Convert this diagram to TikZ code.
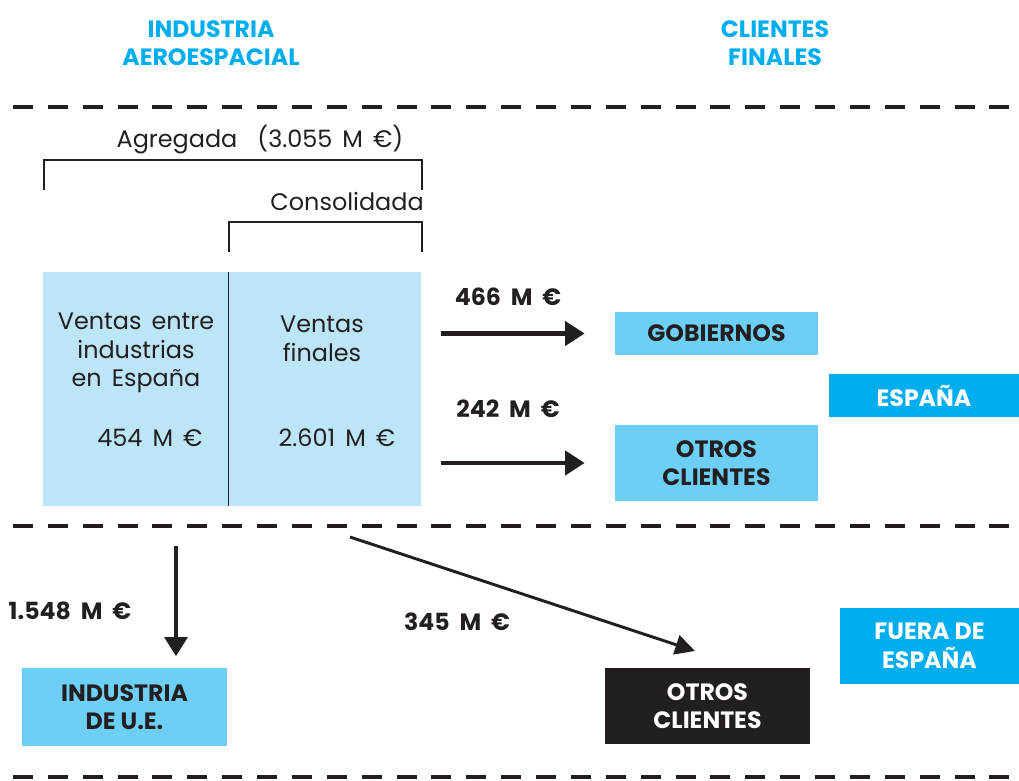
\documentclass[tikz,border=0pt]{standalone}
\usepackage{fontspec}
\setmainfont{Poppins}
\usepackage{xcolor}
\definecolor{colTitle}{HTML}{00AEEF}
\definecolor{colPale}{HTML}{BDE5F8}
\definecolor{colMid}{HTML}{6DCFF6}
\definecolor{colDark}{HTML}{231F20}
\usetikzlibrary{arrows.meta, positioning}
\newcommand\widesp{\spaceskip=0.42em plus 0.1em\relax}

\tikzset{
    lbl/.style={font={\fontsize{17}{20.3}\selectfont\widesp}, text=colDark, align=center, inner sep=0pt},
    blbl/.style={lbl, font={\fontsize{16.8}{20.3}\selectfont\bfseries\widesp}},
    cbox/.style={lbl, font={\fontsize{16.8}{20.3}\selectfont\bfseries}, fill=colMid, minimum width=5.075cm},
    zone/.style={cbox, fill=colTitle, text=white},
    sepline/.style={colDark, line width=2.8pt, dash pattern=on 14.2pt off 10.6pt},
    bracket/.style={colDark, line width=0.9pt},
    flow/.style={colDark, line width=3.5pt, -{Triangle[length=14pt,width=17pt]}},
}

\begin{document}
\begin{tikzpicture}[x=0.025cm, y=-0.025cm]
        \useasboundingbox (0,0) rectangle (1019,781);
        % Column titles
        \node[blbl, text=colTitle] (tInd) at (211,43) {INDUSTRIA\\AEROESPACIAL};
        \node[blbl, text=colTitle] (tCli) at (775,43) {CLIENTES\\FINALES};
        % Separators
        \draw[sepline] (13,107) -- (1019,107);
        \draw[sepline] (13,526) -- (1019,526);
        \draw[sepline] (13,777) -- (1019,777);
        % Brackets
        \node[lbl] (agr) at (260,140) {Agregada\ \ (3.055 M €)};
        \draw[bracket] (44,190) |- (422,160) -- (422,190);
        \node[lbl, anchor=east] (cons) at (424,202) {Consolidada};
        \draw[bracket] (229,252) |- (422,222) -- (422,252);
        % Sales block
        \node[fill=colPale, minimum width=4.65cm, minimum height=5.85cm, inner sep=0pt] (vInd) at (136,389) {};
        \node[fill=colPale, minimum width=4.8cm, minimum height=5.85cm, inner sep=0pt] (vFin) at (325,389) {};
        \draw[colDark, line width=0.8pt] (vFin.north west) -- (vFin.south west);
        \node[lbl] (vIndTx) at (136,353) {Ventas entre\\industrias\\en España};
        \node[lbl] (vIndVal) at (150,438) {454 M €};
        \node[lbl] (vFinTx) at (322,339) {Ventas\\finales};
        \node[lbl] (vFinVal) at (337,438) {2.601 M €};
        % Clients in Spain
        \node[cbox, minimum height=1.075cm] (gob) at (716.5,333.5) {GOBIERNOS};
        \node[cbox, minimum height=1.9cm] (otrEs) at (716.5,463) {OTROS\\CLIENTES};
        \node[zone, minimum width=4.75cm, minimum height=1.075cm] (esp) at (924,395.5) {ESPAÑA};
        \coordinate[left=0.75cm of gob.west] (gobIn);
        \coordinate[left=3.6cm of gobIn] (gobOut);
        \coordinate[left=0.75cm of otrEs.west] (otrEsIn);
        \coordinate[left=3.6cm of otrEsIn] (otrEsOut);
        \draw[flow] (gobOut) -- (gobIn);
        \draw[flow] (otrEsOut) -- (otrEsIn);
        \node[blbl] (vGob) at (508,297) {466 M €};
        \node[blbl] (vOtrEs) at (508,409) {242 M €};
        % Clients outside Spain
        \node[cbox, minimum width=5.125cm, minimum height=1.925cm] (iue) at (124.5,707) {INDUSTRIA\\DE U.E.};
        \node[cbox, fill=colDark, text=white, minimum width=5.125cm, minimum height=1.9cm] (otrEx) at (707.5,706) {OTROS\\CLIENTES};
        \node[zone, minimum width=4.475cm, minimum height=1.9cm] (fuera) at (929.5,646) {FUERA DE\\ESPAÑA};
        \coordinate (iueOut) at (176,546);
        \coordinate[above=0.3cm of iue.north -| iueOut] (iueIn);
        \draw[colDark, line width=2.8pt, -{Triangle[length=13.5pt,width=16pt]}] (iueOut) -- (iueIn);
        \coordinate (otrExOut) at (350,537);
        \coordinate (otrExIn) at (695,651);
        \draw[colDark, line width=2.1pt, -{Triangle[length=14pt,width=14pt]}] (otrExOut) -- (otrExIn);
        \node[blbl] (vIue) at (70,611) {1.548 M €};
        \node[blbl] (vOtrEx) at (457,622) {345 M €};
    \end{tikzpicture}
\end{document}
